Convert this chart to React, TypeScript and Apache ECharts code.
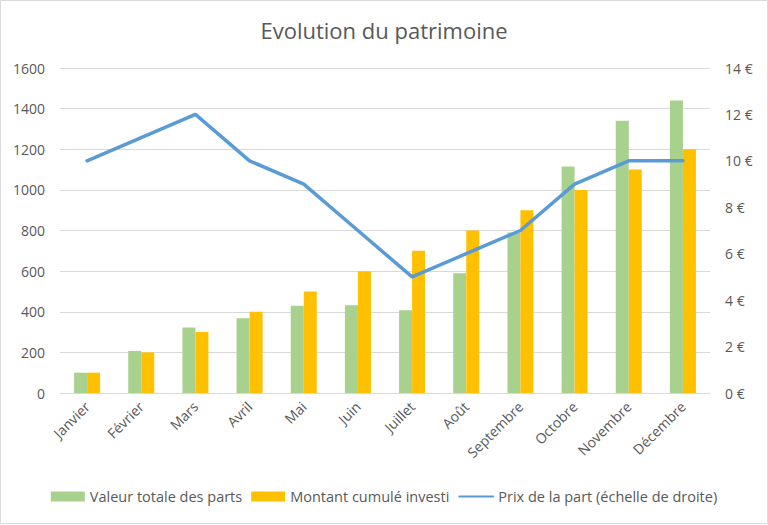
import React, { useEffect, useRef } from "react";
import * as echarts from "echarts";

const months = ["Janvier", "Février", "Mars", "Avril", "Mai", "Juin", "Juillet", "Août", "Septembre", "Octobre", "Novembre", "Décembre"];
const valeurTotale = [100, 207, 322, 368, 430, 432, 408, 590, 790, 1115, 1340, 1440];
const montantCumule = [100, 200, 300, 400, 500, 600, 700, 800, 900, 1000, 1100, 1200];
const prixPart = [10, 11, 12, 10, 9, 7, 5, 6, 7, 9, 10, 10];

const FONT = "'Open Sans', 'Noto Sans', sans-serif";
const TXT = "#595959";

export default function App() {
  const ref = useRef<HTMLDivElement>(null);
  useEffect(() => {
    if (!ref.current) return;
    const chart = echarts.init(ref.current, undefined, { renderer: "svg" });
    chart.setOption({
      animation: false,
      backgroundColor: "#fff",
      textStyle: { fontFamily: FONT },
      title: {
        text: "Evolution du patrimoine",
        left: "center",
        top: 14,
        textStyle: { fontFamily: FONT, fontSize: 22, fontWeight: "normal", color: TXT },
      },
      graphic: [
        {
          type: "rect",
          shape: { x: 0.5, y: 0.5, width: 767, height: 523 },
          style: { fill: "none", stroke: "#d9d9d9", lineWidth: 1 },
          silent: true,
        },
      ],
      legend: {
        bottom: 16,
        left: "center",
        itemWidth: 34,
        itemHeight: 10,
        itemGap: 9,
        itemStyle: {},
        textStyle: { fontFamily: FONT, fontSize: 14.5, color: TXT },
        data: [
          { name: "Valeur totale des parts", icon: "rect" },
          { name: "Montant cumulé investi", icon: "rect" },
          { name: "Prix de la part (échelle de droite)", itemStyle: { opacity: 0 } },
        ],
      },
      grid: { left: 60, right: 58, top: 68, bottom: 132 },
      xAxis: {
        type: "category",
        data: months,
        axisLine: { lineStyle: { color: "#d9d9d9" } },
        axisTick: { show: false },
        axisLabel: { rotate: 45, color: TXT, fontSize: 14, fontFamily: FONT, margin: 11, interval: 0 },
      },
      yAxis: [
        {
          type: "value",
          min: 0,
          max: 1600,
          interval: 200,
          axisLine: { show: false },
          axisTick: { show: false },
          splitLine: { lineStyle: { color: "#d9d9d9" } },
          axisLabel: { color: TXT, fontSize: 14, fontFamily: FONT, margin: 15, formatter: (v: number) => String(v) },
        },
        {
          type: "value",
          min: 0,
          max: 14,
          interval: 2,
          position: "right",
          axisLine: { show: false },
          axisTick: { show: false },
          splitLine: { show: false },
          axisLabel: { color: TXT, fontSize: 14, fontFamily: FONT, margin: 15, formatter: "{value} €" },
        },
      ],
      series: [
        {
          name: "Valeur totale des parts",
          type: "bar",
          data: valeurTotale,
          barWidth: 13,
          barGap: "0%",
          itemStyle: { color: "#A9D18E" },
        },
        {
          name: "Montant cumulé investi",
          type: "bar",
          data: montantCumule,
          barWidth: 13,
          barGap: "0%",
          itemStyle: { color: "#FFC000" },
        },
        {
          name: "Prix de la part (échelle de droite)",
          type: "line",
          yAxisIndex: 1,
          data: prixPart,
          symbol: "none",
          lineStyle: { color: "#5B9BD5", width: 3.5, cap: "round", join: "round" },
          itemStyle: { color: "#5B9BD5" },
        },
      ],
    });
    return () => chart.dispose();
  }, []);
  return <div ref={ref} style={{ position: "absolute", left: 0, top: 0, width: 768, height: 525 }} />;
}
